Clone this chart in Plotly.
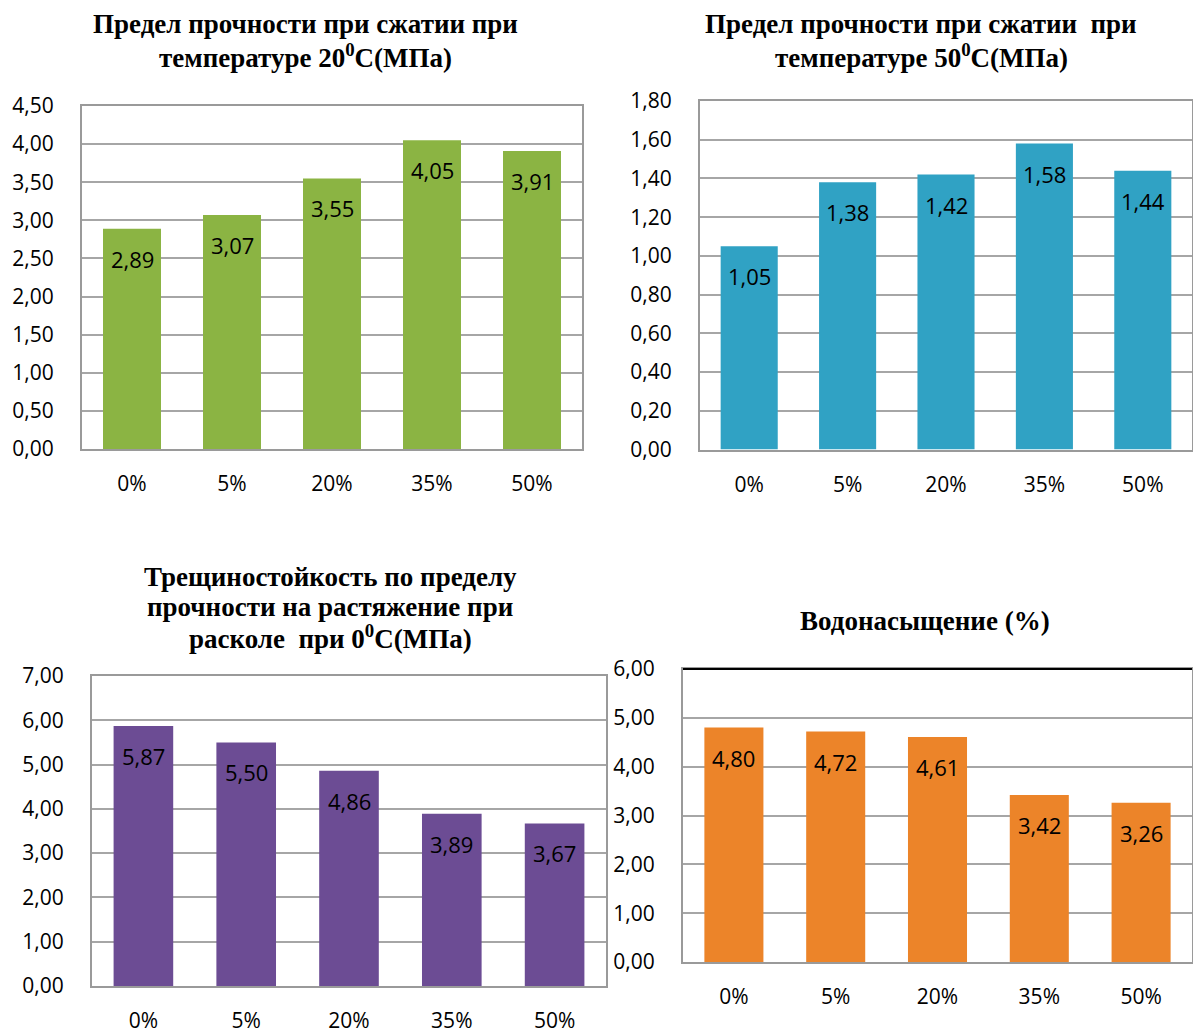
import plotly.graph_objects as go

categories = ["0%", "5%", "20%", "35%", "50%"]
strength_20 = [2.89, 3.07, 3.55, 4.05, 3.91]
strength_50 = [1.05, 1.38, 1.42, 1.58, 1.44]
crack_0 = [5.87, 5.50, 4.86, 3.89, 3.67]
water_sat = [4.80, 4.72, 4.61, 3.42, 3.26]

titles = [
    ["Предел прочности при сжатии при", "температуре 20<sup>0</sup>С(МПа)"],
    ["Предел прочности при сжатии  при", "температуре 50<sup>0</sup>С(МПа)"],
    ["Трещиностойкость по пределу", "прочности на растяжение при",
     "расколе  при 0<sup>0</sup>С(МПа)"],
    ["Водонасыщение (%)"],
]

W, H = 1193, 1032

def px_x(a, b):
    return [a / W, b / W]

def px_y(top, bottom):
    return [1 - bottom / H, 1 - top / H]

panels = [
    dict(data=strength_20, color="#8bb443", rng=[0, 4.5], dtick=0.5,
         dx=px_x(82, 582), dy=px_y(106, 449), tx=305, ty=[24, 56]),
    dict(data=strength_50, color="#30a2c4", rng=[0, 1.8], dtick=0.2,
         dx=px_x(700, 1192), dy=px_y(101, 449.5), tx=921, ty=[24, 56]),
    dict(data=crack_0, color="#6c4c94", rng=[0, 7], dtick=1,
         dx=px_x(92, 606), dy=px_y(676, 986), tx=330, ty=[577, 607, 637]),
    dict(data=water_sat, color="#ec8429", rng=[0, 6], dtick=1,
         dx=px_x(683, 1192), dy=px_y(669, 962), tx=925, ty=[621]),
]

fig = go.Figure()
annotations = []
shapes = []
for i, p in enumerate(panels, start=1):
    xa = "x" if i == 1 else f"x{i}"
    ya = "y" if i == 1 else f"y{i}"
    fig.add_trace(go.Bar(
        x=categories, y=p["data"], xaxis=xa, yaxis=ya,
        marker=dict(color=p["color"], line=dict(width=0)),
        showlegend=False, hoverinfo="x+y",
    ))
    for c, v in zip(categories, p["data"]):
        annotations.append(dict(
            x=c, y=v, xref=xa, yref=ya, yshift=-30, showarrow=False,
            text=f"{v:.2f}".replace(".", ","),
            font=dict(family="Open Sans", size=22, color="#000000"),
        ))
    for line, yy in zip(titles[i - 1], p["ty"]):
        annotations.append(dict(
            x=p["tx"] / W, y=1 - yy / H, xref="paper", yref="paper",
            showarrow=False, text=f"<b>{line}</b>", align="center",
            xanchor="center", yanchor="middle",
            font=dict(family="Liberation Serif", size=27, color="#000000"),
        ))
    axkey = "xaxis" if i == 1 else f"xaxis{i}"
    aykey = "yaxis" if i == 1 else f"yaxis{i}"
    ticks_vals = []
    v = 0.0
    while v <= p["rng"][1] + 1e-9:
        ticks_vals.append(round(v, 2))
        v += p["dtick"]
    fig.update_layout(**{
        axkey: dict(domain=p["dx"], anchor=ya, showline=True, mirror=True,
                    linecolor="#9a9a9a", linewidth=2, showgrid=False,
                    ticks="", ticklabelstandoff=15, automargin=False,
                    tickfont=dict(family="Open Sans", size=21, color="#000000")),
        aykey: dict(domain=p["dy"], anchor=xa, range=p["rng"],
                    tickvals=ticks_vals,
                    ticktext=[f"{t:.2f}".replace(".", ",") for t in ticks_vals],
                    showline=True, mirror=True, linecolor="#9a9a9a", linewidth=2,
                    showgrid=True, gridcolor="#a6a6a6", gridwidth=2,
                    zeroline=False, ticks="", ticklabelstandoff=22,
                    automargin=False,
                    tickfont=dict(family="Open Sans", size=21, color="#000000")),
    })

shapes.append(dict(type="line", xref="x4 domain", yref="y4 domain",
                   x0=0, x1=1, y0=1, y1=1, line=dict(color="#000000", width=2)))

fig.update_layout(
    width=W, height=H, margin=dict(l=0, r=0, t=0, b=0),
    paper_bgcolor="#ffffff", plot_bgcolor="#ffffff",
    bargap=0.42, annotations=annotations, shapes=shapes,
)

fig.write_html(
    "out.html",
    config={"displayModeBar": False},
    post_script="document.body.style.margin='0px';document.body.style.overflow='hidden';",
)
